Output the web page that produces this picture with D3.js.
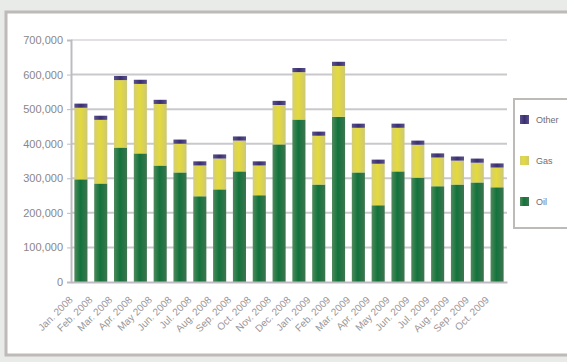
<!DOCTYPE html>
<html><head><meta charset="utf-8">
<script src="https://cdn.jsdelivr.net/npm/d3@7"></script>
<style>
html,body{margin:0;padding:0;background:#e9ebe9;}
svg{display:block;font-family:"Liberation Sans",Arial,sans-serif;}
</style></head>
<body>
<svg id="c" width="567" height="362"></svg>
<script>
const categories = ["Jan. 2008","Feb. 2008","Mar. 2008","Apr. 2008","May 2008","Jun. 2008","Jul. 2008","Aug. 2008","Sep. 2008","Oct. 2008","Nov. 2008","Dec. 2008","Jan. 2009","Feb. 2009","Mar. 2009","Apr. 2009","May 2009","Jun. 2009","Jul. 2009","Aug. 2009","Sep. 2009","Oct. 2009"];
const seriesNames = ["Oil","Gas","Other"];
const oilValues   = [297000,285000,389000,372000,337000,317000,248000,268000,320000,251000,398000,470000,282000,478000,317000,222000,320000,302000,277000,282000,288000,274000];
const gasValues   = [207000,184000,195000,201000,178000,83000,89000,89000,89000,86000,114000,137000,141000,147000,129000,120000,126000,95000,83000,69000,57000,57000];
const otherValues = [12000,12000,12000,12000,12000,12000,12000,12000,12000,12000,12000,12000,12000,12000,12000,12000,12000,12000,12000,12000,12000,12000];
const yTicks = [0,100000,200000,300000,400000,500000,600000,700000];

const svg = d3.select("#c");
// chart area
svg.append("rect").attr("x",6).attr("y",12).attr("width",570).attr("height",343)
  .attr("fill","#ffffff").attr("stroke","#bdbab8").attr("stroke-width",3);

const x = d3.scaleBand().domain(categories).range([71,507]).paddingInner(0.34).paddingOuter(0.17);
const y = d3.scaleLinear().domain([0,700000]).range([282,40]);

const defs = svg.append("defs");
function grad(id, stops){
  const g = defs.append("linearGradient").attr("id",id).attr("x1","0").attr("x2","1").attr("y1","0").attr("y2","0");
  stops.forEach(s=>g.append("stop").attr("offset",s[0]).attr("stop-color",s[1]));
}
grad("gOil",[[0,"#4f8a5c"],[0.45,"#12733c"],[1,"#3f7450"]]);
grad("gGas",[[0,"#d4ce78"],[0.45,"#e4da3a"],[1,"#cdc878"]]);
grad("gOther",[[0,"#5a5088"],[0.5,"#3a2f72"],[1,"#5a5088"]]);

// gridlines
svg.append("g").selectAll("line").data(yTicks.slice(1)).join("line")
  .attr("x1",71).attr("x2",507).attr("y1",d=>y(d)).attr("y2",d=>y(d))
  .attr("stroke",(d,i)=>i===yTicks.length-2?"#e2e0e4":"#cac8cc").attr("stroke-width",2);

// y axis
const yAxis = d3.axisLeft(y).tickValues(yTicks).tickFormat(d3.format(",")).tickSize(4).tickPadding(4);
const ya = svg.append("g").attr("transform","translate(71,0)").call(yAxis);
ya.select(".domain").attr("stroke","#bdbbc0").attr("stroke-width",2);
ya.selectAll(".tick line").attr("stroke","#bdbbc0");
ya.selectAll("text").attr("fill","#8a8688").attr("font-size","11px");

// stacked bars
const rows = categories.map((c,i)=>({cat:c, Oil:oilValues[i], Gas:gasValues[i], Other:otherValues[i]}));
const stack = d3.stack().keys(seriesNames)(rows);
const fills = {Oil:"url(#gOil)", Gas:"url(#gGas)", Other:"url(#gOther)"};
svg.append("g").selectAll("g").data(stack).join("g")
  .attr("fill",d=>fills[d.key])
  .selectAll("rect").data(d=>d).join("rect")
  .attr("x",d=>x(d.data.cat)).attr("width",x.bandwidth())
  .attr("y",d=>y(d[1])).attr("height",d=>y(d[0])-y(d[1]));

// x axis
const xa = svg.append("g").attr("transform","translate(0,282)").call(d3.axisBottom(x).tickSize(0).tickPadding(0));
xa.select(".domain").attr("stroke","#bdbbc0").attr("stroke-width",2);
xa.selectAll("text").attr("fill","#9a9698").attr("font-size","10px")
  .attr("text-anchor","end").attr("transform","translate(-10,16) rotate(-45)").attr("dy","0.35em");

// legend
const lg = svg.append("g").attr("transform","translate(514,99)");
lg.append("rect").attr("width",60).attr("height",129).attr("fill","#ffffff").attr("stroke","#bdbab8").attr("stroke-width",2);
const legendItems = ["Other","Gas","Oil"];
const legendY = d3.scalePoint().domain(legendItems).range([21,103]);
legendItems.forEach(k=>{
  lg.append("rect").attr("x",6).attr("y",legendY(k)-5).attr("width",9).attr("height",9).attr("fill",fills[k]);
  lg.append("text").attr("x",22).attr("y",legendY(k)).attr("dy","0.35em")
    .attr("font-size","9px").attr("fill","#706c70").text(k);
});
</script>
</body></html>
